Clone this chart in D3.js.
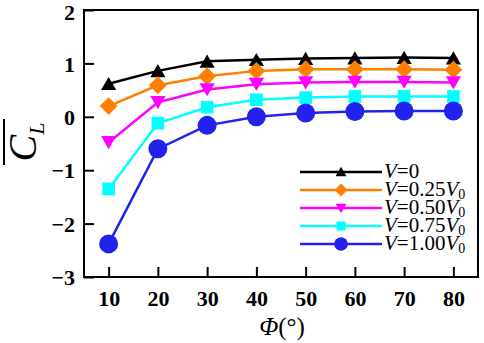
<!DOCTYPE html>
<html>
<head>
<meta charset="utf-8">
<script src="https://cdn.jsdelivr.net/npm/d3@7"></script>
<style>
  body { margin: 0; background: #fff; }
  svg { display: block; }
</style>
</head>
<body>
<div id="chart"></div>
<script>
// angle of attack values (x axis)
var phi = [10, 20, 30, 40, 50, 60, 70, 80];

// mean lift coefficient for each velocity ratio
var cl_v0 = [0.62, 0.86, 1.04, 1.07, 1.09, 1.10, 1.11, 1.10];
var cl_v025 = [0.20, 0.59, 0.76, 0.86, 0.89, 0.89, 0.89, 0.88];
var cl_v050 = [-0.48, 0.27, 0.51, 0.61, 0.64, 0.65, 0.65, 0.64];
var cl_v075 = [-1.35, -0.12, 0.18, 0.32, 0.36, 0.38, 0.38, 0.38];
var cl_v100 = [-2.38, -0.60, -0.16, 0.00, 0.07, 0.10, 0.11, 0.11];

var seriesNames = ["0", "0.25", "0.50", "0.75", "1.00"];
var xTicks = [10, 20, 30, 40, 50, 60, 70, 80];
var yTicks = [-3, -2, -1, 0, 1, 2];

var series = [
    {name: seriesNames[0], values: cl_v0, color: "#000000", symbol: "triangle"},
    {name: seriesNames[1], values: cl_v025, color: "#FF8000", symbol: "diamond"},
    {name: seriesNames[2], values: cl_v050, color: "#FF00FF", symbol: "down"},
    {name: seriesNames[3], values: cl_v075, color: "#00FFFF", symbol: "square"},
    {name: seriesNames[4], values: cl_v100, color: "#2222EE", symbol: "circle"}
];

var FONT = "'Liberation Serif'";
var width = 484, height = 343;
var margin = {left: 84, right: 6, top: 10, bottom: 66};

var svg = d3.select("#chart").append("svg")
    .attr("width", width)
    .attr("height", height)
    .attr("font-family", "Liberation Serif");

var x = d3.scaleLinear().domain([5, 85]).range([margin.left, width - margin.right]);
var y = d3.scaleLinear().domain([-3, 2]).range([height - margin.bottom, margin.top]);

//Draws one marker of the given kind
function drawMarker(g, kind, cx, cy, color, scale) {
    var s = scale || 1;
    if (kind === "circle") {
        g.append("circle").attr("cx", cx).attr("cy", cy).attr("r", 9.5 * s).attr("fill", color);
    } else {
        var sym, size, rot = 0;
        if (kind === "triangle") { sym = d3.symbolTriangle; size = 100; }
        else if (kind === "down") { sym = d3.symbolTriangle; size = 100; rot = 180; }
        else if (kind === "diamond") { sym = d3.symbolSquare; size = 160; rot = 45; }
        else { sym = d3.symbolSquare; size = 160; }
        g.append("path")
            .attr("d", d3.symbol().type(sym).size(size * s * s)())
            .attr("transform", "translate(" + cx + "," + cy + ") rotate(" + rot + ")")
            .attr("fill", color);
    }
}

var line = d3.line()
    .x(function (d, i) { return x(phi[i]); })
    .y(function (d) { return y(d); });

series.forEach(function (s) {
    var g = svg.append("g");
    g.append("path")
        .datum(s.values)
        .attr("d", line)
        .attr("fill", "none")
        .attr("stroke", s.color)
        .attr("stroke-width", 2.5);
    s.values.forEach(function (v, i) {
        var yOff = s.symbol === "triangle" ? 2 : (s.symbol === "down" ? -2 : 0);
        drawMarker(g, s.symbol, x(phi[i]), y(v) + yOff, s.color);
    });
});

// axes with inward ticks
var xAxis = svg.append("g")
    .attr("transform", "translate(0," + (height - margin.bottom) + ")")
    .call(d3.axisBottom(x).tickValues(xTicks).tickSize(-10).tickPadding(13));
var yAxis = svg.append("g")
    .attr("transform", "translate(" + margin.left + ",0)")
    .call(d3.axisLeft(y).tickValues(yTicks).tickSize(-10).tickPadding(9).tickFormat(d3.format("d")));

[xAxis, yAxis].forEach(function (a) {
    a.attr("font-family", null).attr("font-size", null);
    a.select(".domain").remove();
    a.selectAll(".tick line").attr("stroke", "#000").attr("stroke-width", 2);
    a.selectAll(".tick text")
        .style("font-family", FONT)
        .style("font-size", "22px")
        .style("font-weight", "bold")
        .attr("fill", "#000");
});
yAxis.selectAll(".tick text").attr("dy", "0.35em");
// keep the top label inside the picture
yAxis.selectAll(".tick text").filter(function (d) { return d === 2; }).attr("dy", "0.45em");

// frame
svg.append("rect")
    .attr("x", margin.left)
    .attr("y", margin.top)
    .attr("width", width - margin.left - margin.right)
    .attr("height", height - margin.top - margin.bottom)
    .attr("fill", "none")
    .attr("stroke", "#000")
    .attr("stroke-width", 2);

// x axis title
svg.append("text")
    .attr("x", 282)
    .attr("y", 335)
    .attr("text-anchor", "middle")
    .style("font-family", FONT)
    .style("font-size", "25px")
    .html('<tspan font-style="italic">Φ</tspan>(°)');

// y axis title: C with overline and subscript L
var yt = svg.append("g").attr("transform", "translate(36,142) rotate(-90)");
yt.append("text")
    .attr("text-anchor", "middle")
    .style("font-family", FONT)
    .style("font-size", "40px")
    .html('<tspan font-style="italic">C</tspan><tspan font-style="italic" font-size="22px" dy="8">L</tspan>');
yt.append("line")
    .attr("x1", -23).attr("x2", 23)
    .attr("y1", -32).attr("y2", -32)
    .attr("stroke", "#000").attr("stroke-width", 2);

// legend
var legend = svg.append("g");
series.forEach(function (s, i) {
    var ly = 172 + i * 18;
    legend.append("line")
        .attr("x1", 300).attr("x2", 382)
        .attr("y1", ly).attr("y2", ly)
        .attr("stroke", s.color).attr("stroke-width", 2.5);
    drawMarker(legend, s.symbol, 341, ly + (s.symbol === "triangle" ? 1 : (s.symbol === "down" ? -1 : 0)), s.color, 0.72);
    var t = legend.append("text")
        .attr("x", 384)
        .attr("y", ly + 6)
        .style("font-family", FONT)
        .style("font-size", "21px");
    t.append("tspan").attr("font-style", "italic").text("V");
    t.append("tspan").text("=" + s.name);
    if (s.name !== "0") {
        t.append("tspan").attr("font-style", "italic").text("V");
        t.append("tspan").attr("font-size", "14px").attr("dy", 3).text("0");
    }
});
</script>
</body>
</html>
